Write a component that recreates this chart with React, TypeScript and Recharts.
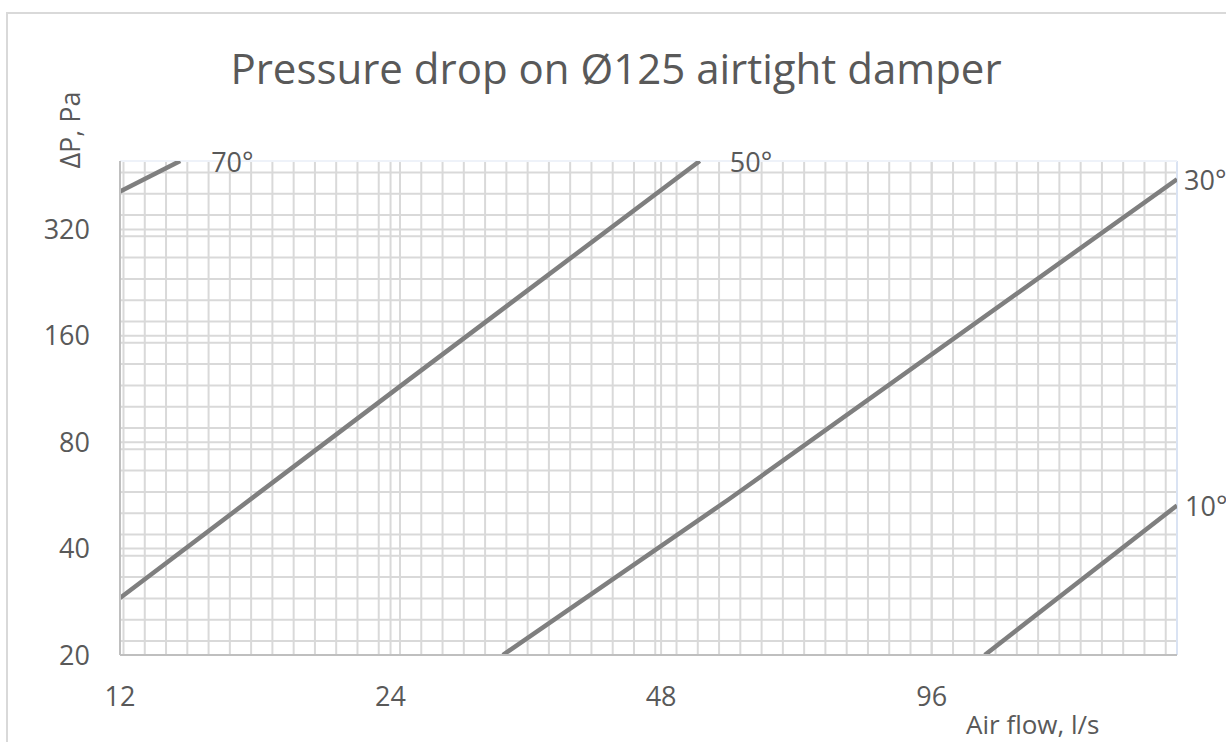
import { CartesianGrid, Line, LineChart, ReferenceLine, XAxis, YAxis } from "recharts";

// air flow, l/s (log scale)
const flowTicks = [12, 24, 48, 96];
const flowDomain = [12, 180];
// pressure drop, Pa (log scale)
const pressureTicks = [20, 40, 80, 160, 320];
const pressureDomain = [20, 500];

// damper blade angle curves
const angle70 = [
  { q: 12, p: 410 },
  { q: 14, p: 500 },
];
const angle50 = [
  { q: 12, p: 29 },
  { q: 24.9, p: 118 },
  { q: 53, p: 500 },
];
const angle30 = [
  { q: 32, p: 20 },
  { q: 57, p: 55 },
  { q: 180, p: 444 },
];
const angle10 = [
  { q: 110, p: 20 },
  { q: 180, p: 53 },
];

// background paper grid: uniform cells behind the log axes
const paperCols = Array.from({ length: 50 }, (_, i) => i);
const paperRows = Array.from({ length: 23 }, (_, i) => i);
const CELL_W = 21.27;
const CELL_H = 21.3;

const TEXT = "#595959";
const GRID = "#d9d9d9";
const CURVE = "#7f7f7f";
const FONT = "'Open Sans', 'Noto Sans', sans-serif";

const endLabel = (text: string, count: number, dx: number) => (props: any) => {
  if (props.index !== count - 1) return <g />;
  return (
    <text
      x={props.x + dx}
      y={props.y}
      dominantBaseline="central"
      textAnchor="start"
      fontSize={27}
      fill={TEXT}
      fontFamily={FONT}
    >
      {text}
    </text>
  );
};

export default function App() {
  return (
    <div
      style={{
        position: "absolute",
        left: 0,
        top: 0,
        width: 1226,
        height: 742,
        overflow: "hidden",
        background: "#fff",
        fontFamily: FONT,
      }}
    >
      <div
        style={{
          position: "absolute",
          left: 6,
          top: 12,
          width: 1400,
          height: 900,
          border: "2px solid #d9d9d9",
        }}
      />
      <div
        style={{
          position: "absolute",
          left: 0,
          width: 1232,
          top: 38,
          textAlign: "center",
          fontSize: 42,
          color: TEXT,
          lineHeight: "60px",
        }}
      >
        Pressure drop on Ø125 airtight damper
      </div>
      <div
        style={{
          position: "absolute",
          left: 69,
          top: 130,
          transform: "translate(-50%, -50%) rotate(-90deg)",
          fontSize: 27,
          color: TEXT,
          whiteSpace: "nowrap",
        }}
      >
        ΔP, Pa
      </div>
      <div
        style={{
          position: "absolute",
          left: 966,
          top: 706,
          fontSize: 26,
          color: TEXT,
          whiteSpace: "nowrap",
          lineHeight: "36px",
        }}
      >
        Air flow, l/s
      </div>
      <div style={{ position: "absolute", left: 0, top: 0 }}>
        <LineChart width={1226} height={742} margin={{ top: 161, right: 49, bottom: 27, left: 60 }}>
          <CartesianGrid
            stroke={GRID}
            strokeWidth={2}
            verticalCoordinatesGenerator={({ offset }: any) =>
              paperCols.map((c) => offset.left + 3.5 + c * CELL_W)
            }
            horizontalCoordinatesGenerator={({ offset }: any) =>
              paperRows.map((r) => offset.top + offset.height - 14 - r * CELL_H)
            }
          />
          <XAxis
            dataKey="q"
            type="number"
            scale="log"
            domain={flowDomain}
            allowDataOverflow
            ticks={flowTicks}
            height={60}
            tickLine={false}
            tickSize={6}
            tickMargin={26}
            axisLine={{ stroke: "#bfbfbf", strokeWidth: 2 }}
            tick={{ fontSize: 27, fill: TEXT, fontFamily: FONT }}
          />
          <YAxis
            dataKey="p"
            type="number"
            scale="log"
            domain={pressureDomain}
            allowDataOverflow
            ticks={pressureTicks}
            width={60}
            tickLine={false}
            tickSize={6}
            tickMargin={24}
            axisLine={{ stroke: "#bfbfbf", strokeWidth: 2 }}
            tick={{ fontSize: 27, fill: TEXT, fontFamily: FONT }}
          />
          {flowTicks.slice(1).map((t) => (
            <ReferenceLine key={"fx" + t} x={t} stroke={GRID} strokeWidth={2} />
          ))}
          {pressureTicks.slice(1).map((t) => (
            <ReferenceLine key={"py" + t} y={t} stroke={GRID} strokeWidth={2} />
          ))}
          <ReferenceLine x={flowDomain[1]} stroke="#dae3f3" strokeWidth={2} />
          <ReferenceLine y={pressureDomain[1]} stroke="#eef2f9" strokeWidth={2} />

          <Line data={angle70} dataKey="p" stroke={CURVE} strokeWidth={4.5} dot={false} isAnimationActive={false} label={endLabel("70°", angle70.length, 31)} />
          <Line data={angle50} dataKey="p" stroke={CURVE} strokeWidth={4.5} dot={false} isAnimationActive={false} label={endLabel("50°", angle50.length, 30)} />
          <Line data={angle30} dataKey="p" stroke={CURVE} strokeWidth={4.5} dot={false} isAnimationActive={false} label={endLabel("30°", angle30.length, 7)} />
          <Line data={angle10} dataKey="p" stroke={CURVE} strokeWidth={4.5} dot={false} isAnimationActive={false} label={endLabel("10°", angle10.length, 8)} />
        </LineChart>
      </div>
    </div>
  );
}
